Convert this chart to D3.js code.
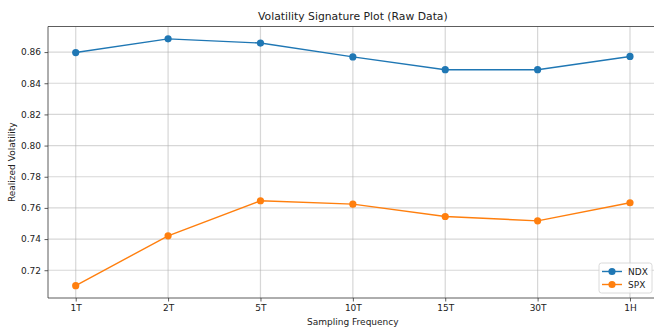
<!DOCTYPE html>
<html>
<head>
<meta charset="utf-8">
<script src="https://cdn.jsdelivr.net/npm/d3@7"></script>
<style>
  html, body { margin: 0; padding: 0; background: #fff; }
  svg { display: block; font-family: "DejaVu Sans", sans-serif; }
</style>
</head>
<body>
<svg id="chart" width="654" height="330"></svg>
<script>
// Sampling frequencies and realized volatility for each index
const frequencies = ["1T", "2T", "5T", "10T", "15T", "30T", "1H"];
const ndxValues = [0.8597, 0.8685, 0.8658, 0.8569, 0.8487, 0.8487, 0.8572];
const spxValues = [0.7101, 0.7421, 0.7646, 0.7624, 0.7545, 0.7517, 0.7633];
const yTicks = [0.72, 0.74, 0.76, 0.78, 0.80, 0.82, 0.84, 0.86];
const seriesNames = ["NDX", "SPX"];
const seriesColors = ["#1f77b4", "#ff7f0e"];

const svg = d3.select("#chart");
const margin = { left: 48, top: 26.5, right: -3.7, bottom: 32 };
const W = 654, H = 330;
const innerL = margin.left, innerR = W - margin.right;
const innerT = margin.top, innerB = H - margin.bottom;

// Index-based x scale with a 5% pad on each side
const n = frequencies.length;
const pad = 0.05 * (n - 1);
const x = d3.scaleLinear().domain([-pad, n - 1 + pad]).range([innerL, innerR]);

const all = ndxValues.concat(spxValues);
const lo = d3.min(all), hi = d3.max(all), span = hi - lo;
const y = d3.scaleLinear().domain([lo - 0.05 * span, hi + 0.05 * span]).range([innerB, innerT]);

const series = [
  { name: seriesNames[0], color: seriesColors[0], values: ndxValues },
  { name: seriesNames[1], color: seriesColors[1], values: spxValues }
];

const clip = svg.append("defs").append("clipPath").attr("id", "plot-clip")
  .append("rect").attr("x", innerL).attr("y", innerT)
  .attr("width", innerR - innerL).attr("height", innerB - innerT);

// Grid lines
const grid = svg.append("g").attr("clip-path", "url(#plot-clip)");
grid.selectAll("line.gx").data(d3.range(n)).enter().append("line")
  .attr("x1", d => x(d)).attr("x2", d => x(d))
  .attr("y1", innerT).attr("y2", innerB)
  .attr("stroke", "#b0b0b0").attr("stroke-opacity", 0.5).attr("stroke-width", 1.2);
grid.selectAll("line.gy").data(yTicks).enter().append("line")
  .attr("y1", d => y(d)).attr("y2", d => y(d))
  .attr("x1", innerL).attr("x2", innerR)
  .attr("stroke", "#b0b0b0").attr("stroke-opacity", 0.5).attr("stroke-width", 1.2);

// Axes
const xAxis = d3.axisBottom(x).tickValues(d3.range(n))
  .tickFormat(i => frequencies[i]).tickSize(3.5).tickPadding(3.5);
const yAxis = d3.axisLeft(y).tickValues(yTicks)
  .tickFormat(d3.format(".2f")).tickSize(3.5).tickPadding(3.5);

const gx = svg.append("g").attr("transform", `translate(0,${innerB})`).call(xAxis);
const gy = svg.append("g").attr("transform", `translate(${innerL},0)`).call(yAxis);
[gx, gy].forEach(g => {
  g.select(".domain").remove();
  g.selectAll("line").attr("stroke", "#333").attr("stroke-width", 0.8);
  g.selectAll("text").attr("fill", "#222").style("font-size", "9px")
    .style("font-family", "'DejaVu Sans', sans-serif");
});

// Spines
svg.append("line").attr("x1", innerL).attr("x2", innerL).attr("y1", innerT).attr("y2", innerB)
  .attr("stroke", "#333").attr("stroke-width", 0.8);
svg.append("line").attr("x1", innerL).attr("x2", W).attr("y1", innerB).attr("y2", innerB)
  .attr("stroke", "#333").attr("stroke-width", 0.8);
svg.append("line").attr("x1", innerL).attr("x2", W).attr("y1", innerT).attr("y2", innerT)
  .attr("stroke", "#333").attr("stroke-width", 0.8);

// Lines and markers
const line = d3.line().x((d, i) => x(i)).y(d => y(d));
series.forEach(s => {
  svg.append("path").datum(s.values)
    .attr("d", line).attr("fill", "none")
    .attr("stroke", s.color).attr("stroke-width", 1.4);
  svg.append("g").selectAll("circle").data(s.values).enter().append("circle")
    .attr("cx", (d, i) => x(i)).attr("cy", d => y(d)).attr("r", 3.6)
    .attr("fill", s.color);
});

// Title and axis labels
const cx = (innerL + innerR) / 2;
svg.append("text").attr("x", cx).attr("y", 20).attr("text-anchor", "middle")
  .style("font-size", "10.8px").attr("fill", "#222")
  .text("Volatility Signature Plot (Raw Data)");
svg.append("text").attr("x", cx).attr("y", 325).attr("text-anchor", "middle")
  .style("font-size", "9px").attr("fill", "#222").text("Sampling Frequency");
svg.append("text").attr("transform", `translate(15,${(innerT + innerB) / 2}) rotate(-90)`)
  .attr("text-anchor", "middle").style("font-size", "9px").attr("fill", "#222")
  .text("Realized Volatility");

// Legend
const lg = svg.append("g").attr("transform", "translate(599,263)");
lg.append("rect").attr("width", 53).attr("height", 30).attr("rx", 2.5)
  .attr("fill", "#fff").attr("fill-opacity", 0.8)
  .attr("stroke", "#d0d0d0").attr("stroke-width", 0.8);
series.forEach((s, i) => {
  const row = lg.append("g").attr("transform", `translate(0,${8.5 + i * 13})`);
  row.append("line").attr("x1", 3).attr("x2", 23).attr("stroke", s.color).attr("stroke-width", 1.4);
  row.append("circle").attr("cx", 13).attr("r", 3.6).attr("fill", s.color);
  row.append("text").attr("x", 29).attr("dy", "0.35em").style("font-size", "9px")
    .attr("fill", "#222").text(s.name);
});
</script>
</body>
</html>
